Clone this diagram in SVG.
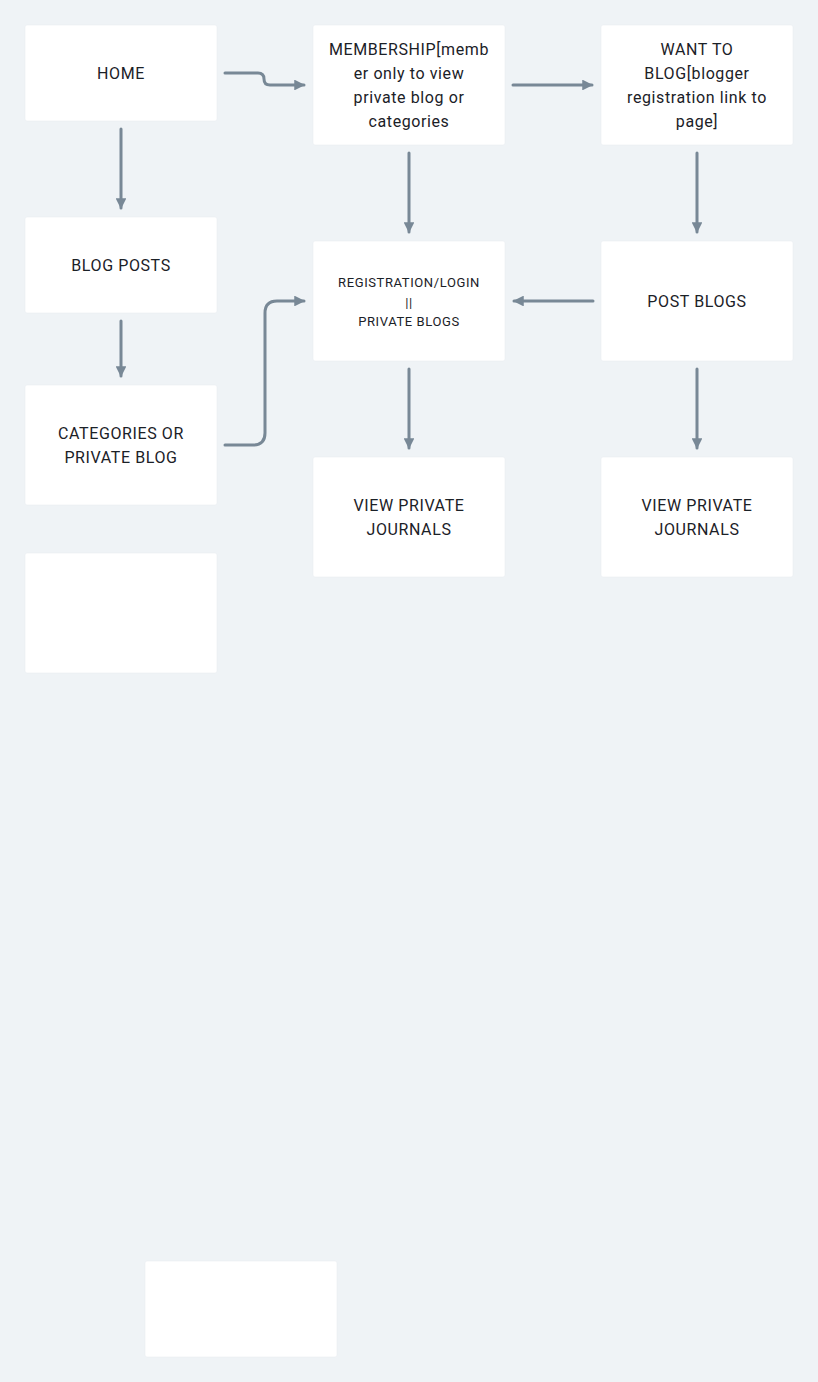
<svg xmlns="http://www.w3.org/2000/svg" width="818" height="1382" viewBox="0 0 818 1382">
<style>
.box{fill:#ffffff;stroke:#e6eaee;stroke-width:0.5}
.t{font-family:Roboto,"Liberation Sans",sans-serif;font-size:16px;letter-spacing:0.6px;fill:#1b2127;text-anchor:middle;dominant-baseline:central}
.s{font-size:13px;letter-spacing:0.6px}
.c{fill:none;stroke:#788896;stroke-width:3;stroke-linecap:round;stroke-linejoin:round}
</style>
<defs>
<marker id="ah" viewBox="0 0 10 10" refX="9" refY="5" markerWidth="3.6" markerHeight="3.6" orient="auto" markerUnits="strokeWidth">
<path d="M0,0 L10,5 L0,10 Z" fill="#788896"/>
</marker>
</defs>
<rect width="818" height="1382" fill="#eff3f6"/>
<g id="connectors">
<path class="c" marker-end="url(#ah)" d="M225 73 H258 Q264 73 264 79 Q264 85 270 85 H304"/>
<path class="c" marker-end="url(#ah)" d="M513 85 H592"/>
<path class="c" marker-end="url(#ah)" d="M121 129 V208"/>
<path class="c" marker-end="url(#ah)" d="M121 321 V376"/>
<path class="c" marker-end="url(#ah)" d="M225 445 H253 Q265 445 265 433 V313 Q265 301 277 301 H304"/>
<path class="c" marker-end="url(#ah)" d="M409 153 V232"/>
<path class="c" marker-end="url(#ah)" d="M697 153 V232"/>
<path class="c" marker-end="url(#ah)" d="M593 301 H514"/>
<path class="c" marker-end="url(#ah)" d="M409 369 V448"/>
<path class="c" marker-end="url(#ah)" d="M697 369 V448"/>
</g>
<g id="home"><rect class="box" x="25" y="25" width="192" height="96" rx="2"/><text class="t" x="121" y="73">HOME</text></g>
<g id="membership"><rect class="box" x="313" y="25" width="192" height="120" rx="2"/>
<text class="t" x="409" y="49">MEMBERSHIP[memb</text><text class="t" x="409" y="73">er only to view</text><text class="t" x="409" y="97">private blog or</text><text class="t" x="409" y="121">categories</text></g>
<g id="want-to-blog"><rect class="box" x="601" y="25" width="192" height="120" rx="2"/>
<text class="t" x="697" y="49">WANT TO</text><text class="t" x="697" y="73">BLOG[blogger</text><text class="t" x="697" y="97">registration link to</text><text class="t" x="697" y="121">page]</text></g>
<g id="blog-posts"><rect class="box" x="25" y="217" width="192" height="96" rx="2"/><text class="t" x="121" y="265">BLOG POSTS</text></g>
<g id="registration"><rect class="box" x="313" y="241" width="192" height="120" rx="2"/>
<text class="t s" x="409" y="282">REGISTRATION/LOGIN</text><text class="t s" x="409" y="302">||</text><text class="t s" x="409" y="321">PRIVATE BLOGS</text></g>
<g id="post-blogs"><rect class="box" x="601" y="241" width="192" height="120" rx="2"/><text class="t" x="697" y="301">POST BLOGS</text></g>
<g id="categories"><rect class="box" x="25" y="385" width="192" height="120" rx="2"/>
<text class="t" x="121" y="433">CATEGORIES OR</text><text class="t" x="121" y="457">PRIVATE BLOG</text></g>
<g id="view-private-1"><rect class="box" x="313" y="457" width="192" height="120" rx="2"/>
<text class="t" x="409" y="505">VIEW PRIVATE</text><text class="t" x="409" y="529">JOURNALS</text></g>
<g id="view-private-2"><rect class="box" x="601" y="457" width="192" height="120" rx="2"/>
<text class="t" x="697" y="505">VIEW PRIVATE</text><text class="t" x="697" y="529">JOURNALS</text></g>
<g id="empty-1"><rect class="box" x="25" y="553" width="192" height="120" rx="2"/></g>
<g id="empty-2"><rect class="box" x="145" y="1261" width="192" height="96" rx="2"/></g>
</svg>
